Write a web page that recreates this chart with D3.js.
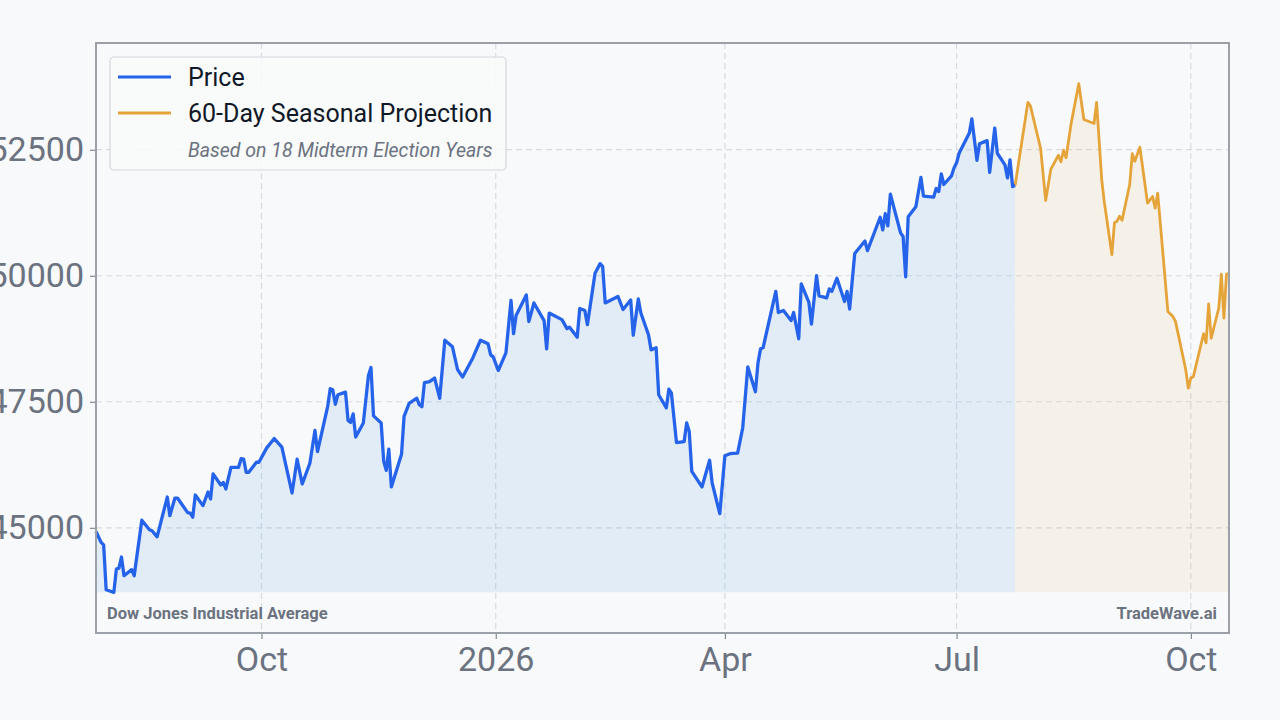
<!DOCTYPE html>
<html>
<head>
<meta charset="utf-8">
<script src="https://cdn.jsdelivr.net/npm/d3@7"></script>
<style>
  body { margin: 0; background: #f8f9fa; }
  svg { display: block; font-family: Roboto, "Noto Sans", sans-serif; }
</style>
</head>
<body>
<svg id="chart" width="1280" height="720"></svg>
<script>
// day offsets from the first trading day, with closing value
const START_DATE = new Date(2025, 6, 28);
const priceSeries = [
  [0,44930],[2,44710],[3,44660],[4,43770],[7,43720],[8,44180],[9,44200],[10,44420],[11,44050],[14,44170],
  [15,44050],[18,45150],[21,44960],[22,44940],[24,44820],[28,45610],[29,45240],[31,45590],[32,45590],[36,45300],
  [37,45290],[38,45210],[39,45650],[42,45440],[44,45710],[45,45570],[46,46070],[49,45850],[50,45900],[51,45770],
  [53,46200],[56,46200],[57,46370],[58,46360],[59,46100],[60,46100],[63,46300],[64,46300],[67,46580],[70,46770],
  [73,46600],[77,45690],[79,46360],[81,45870],[84,46280],[86,46930],[87,46510],[91,47410],[92,47760],[93,47740],
  [94,47450],[95,47640],[98,47690],[99,47130],[100,47090],[101,47260],[102,46800],[105,47080],[107,48020],[108,48180],
  [109,47220],[112,47080],[113,46320],[114,46140],[115,46560],[116,45810],[120,46460],[121,47210],[123,47470],[126,47570],
  [127,47440],[128,47400],[129,47880],[131,47900],[133,47970],[135,47570],[137,48720],[140,48590],[142,48140],[144,47990],
  [148,48370],[151,48720],[154,48650],[155,48430],[156,48390],[158,48120],[161,48470],[163,49510],[164,48850],[165,49210],
  [169,49620],[170,49090],[172,49460],[176,49110],[177,48550],[178,49260],[183,49130],[185,48950],[186,48980],[189,48780],
  [190,49350],[192,49310],[193,49030],[196,50050],[198,50240],[199,50180],[200,49460],[205,49590],[207,49330],[210,49520],
  [211,48820],[213,49540],[214,49260],[217,48830],[218,48530],[220,48570],[221,47640],[224,47380],[225,47750],[226,47670],
  [228,46690],[231,46710],[232,47080],[233,46910],[234,46120],[238,45810],[241,46340],[242,45890],[245,45280],[247,46430],
  [249,46470],[252,46480],[254,46980],[256,48190],[259,47700],[260,48270],[261,48550],[262,48570],[267,49690],[268,49270],
  [270,49310],[273,49110],[274,49270],[276,48750],[277,49840],[280,49470],[281,49040],[283,50000],[284,49600],[287,49560],
  [288,49740],[289,49690],[291,49950],[294,49490],[295,49690],[296,49340],[298,50440],[302,50690],[303,50500],[308,51160],
  [309,50910],[310,51230],[311,50990],[312,51620],[316,50850],[317,50780],[318,49980],[319,51170],[322,51370],[324,51950],
  [325,51580],[329,51560],[330,51730],[331,51670],[332,52020],[333,51810],[336,51980],[337,52140],[338,52240],[339,52430],
  [343,52830],[344,53110],[346,52290],[347,52620],[350,52680],[351,52050],[353,52930],[354,52430],[357,52200],[358,51940],
  [359,52300],[360,51770],[361,51790]
];
const projectionSeries = [
  [361,51790],[366,53440],[367,53370],[371,52530],[373,51490],[375,52110],[378,52390],[379,52260],[380,52490],[381,52340],
  [383,53020],[386,53810],[388,53100],[392,53020],[393,53440],[395,51910],[396,51470],[399,50420],[400,51050],[401,51080],
  [402,51180],[403,51100],[406,51810],[407,52420],[408,52270],[410,52550],[413,51440],[415,51570],[416,51340],[417,51640],
  [421,49290],[423,49190],[424,49090],[428,48140],[429,47770],[430,47970],[431,48000],[435,48850],[436,48670],[437,49440],
  [438,48760],[441,49360],[442,50030],[443,49160],[444,50030],[445,50050]
];
const yTicks = [45000, 47500, 50000, 52500];
const xTicks = [new Date(2025, 9, 1), new Date(2026, 0, 1), new Date(2026, 3, 1), new Date(2026, 6, 1), new Date(2026, 9, 1)];
const xTickLabels = ["Oct", "2026", "Apr", "Jul", "Oct"];
const legendItems = [
  { label: "Price", color: "#2563eb" },
  { label: "60-Day Seasonal Projection", color: "#e5a43a" }
];
const legendNote = "Based on 18 Midterm Election Years";
const chartTitle = "Dow Jones Industrial Average";
const brand = "TradeWave.ai";

const W = 1280, H = 720;
const margin = { top: 43, right: 51, bottom: 87, left: 96 };
const iw = W - margin.left - margin.right;
const ih = H - margin.top - margin.bottom;

const toPoint = d => ({ date: d3.timeDay.offset(START_DATE, d[0]), value: d[1] });
const price = priceSeries.map(toPoint);
const proj = projectionSeries.map(toPoint);
const all = price.concat(proj);

const vMin = d3.min(all, d => d.value), vMax = d3.max(all, d => d.value);
const pad = (vMax - vMin) * 0.08;

const x = d3.scaleTime().domain(d3.extent(all, d => d.date)).range([0, iw]);
const y = d3.scaleLinear().domain([vMin - pad, vMax + pad]).range([ih, 0]);

const svg = d3.select('#chart');
svg.append('rect').attr('width', W).attr('height', H).attr('fill', '#f8f9fa');
const g = svg.append('g').attr('transform', `translate(${margin.left},${margin.top})`);

// grid
g.append('g').selectAll('line').data(yTicks).join('line')
  .attr('x1', 0).attr('x2', iw).attr('y1', d => y(d)).attr('y2', d => y(d))
  .attr('stroke', '#d8dce2').attr('stroke-width', 1.2).attr('stroke-dasharray', '6,4');
g.append('g').selectAll('line').data(xTicks).join('line')
  .attr('y1', 0).attr('y2', ih).attr('x1', d => x(d)).attr('x2', d => x(d))
  .attr('stroke', '#d8dce2').attr('stroke-width', 1.2).attr('stroke-dasharray', '6,4');

// areas
const area = d3.area().x(d => x(d.date)).y0(y(vMin)).y1(d => y(d.value));
g.append('path').datum(price).attr('d', area).attr('fill', 'rgba(74,144,226,0.12)');
g.append('path').datum(proj).attr('d', area).attr('fill', 'rgba(229,164,58,0.09)');

// lines
const line = d3.line().x(d => x(d.date)).y(d => y(d.value));
g.append('path').datum(proj).attr('d', line).attr('fill', 'none')
  .attr('stroke', legendItems[1].color).attr('stroke-width', 2.8).attr('stroke-linejoin', 'round');
g.append('path').datum(price).attr('d', line).attr('fill', 'none')
  .attr('stroke', legendItems[0].color).attr('stroke-width', 3.3).attr('stroke-linejoin', 'round');

// axes
const yAxis = d3.axisLeft(y).tickValues(yTicks).tickSize(6).tickPadding(6).tickFormat(d3.format('d'));
const gy = g.append('g').call(yAxis);
const xAxis = d3.axisBottom(x).tickValues(xTicks).tickSize(6).tickPadding(8)
  .tickFormat((d, i) => xTickLabels[i]);
const gx = g.append('g').attr('transform', `translate(0,${ih})`).call(xAxis);
[gx, gy].forEach(a => {
  a.select('.domain').remove();
  a.selectAll('.tick line').attr('stroke', '#6b7280');
  a.selectAll('.tick text').attr('fill', '#6b7280').style('font-size', '34px')
    .style('font-family', 'Roboto, sans-serif');
});

// frame
g.append('rect').attr('width', iw).attr('height', ih).attr('fill', 'none')
  .attr('stroke', '#9ca0a8').attr('stroke-width', 2);

// footer labels
g.append('text').attr('x', 11).attr('y', ih - 14).text(chartTitle)
  .attr('fill', '#6b7280').style('font-size', '16.5px').style('font-weight', 'bold');
g.append('text').attr('x', iw - 12).attr('y', ih - 14).attr('text-anchor', 'end').text(brand)
  .attr('fill', '#6b7280').style('font-size', '16.5px').style('font-weight', 'bold');

// legend
const lg = g.append('g').attr('transform', 'translate(14,14)');
lg.append('rect').attr('width', 396).attr('height', 113).attr('rx', 4)
  .attr('fill', 'rgba(248,249,250,0.9)').attr('stroke', '#d3d7dd').attr('stroke-width', 1.2);
legendItems.forEach((it, i) => {
  const yy = 20 + i * 36;
  lg.append('line').attr('x1', 8).attr('x2', 61).attr('y1', yy).attr('y2', yy)
    .attr('stroke', it.color).attr('stroke-width', 3);
  lg.append('text').attr('x', 78).attr('y', yy).attr('dy', '0.35em').text(it.label)
    .attr('fill', '#111827').style('font-size', '25px');
});
lg.append('text').attr('x', 78).attr('y', 93).attr('dy', '0.35em').text(legendNote)
  .attr('fill', '#6b7280').style('font-size', '19.5px').style('font-style', 'italic');
</script>
</body>
</html>
